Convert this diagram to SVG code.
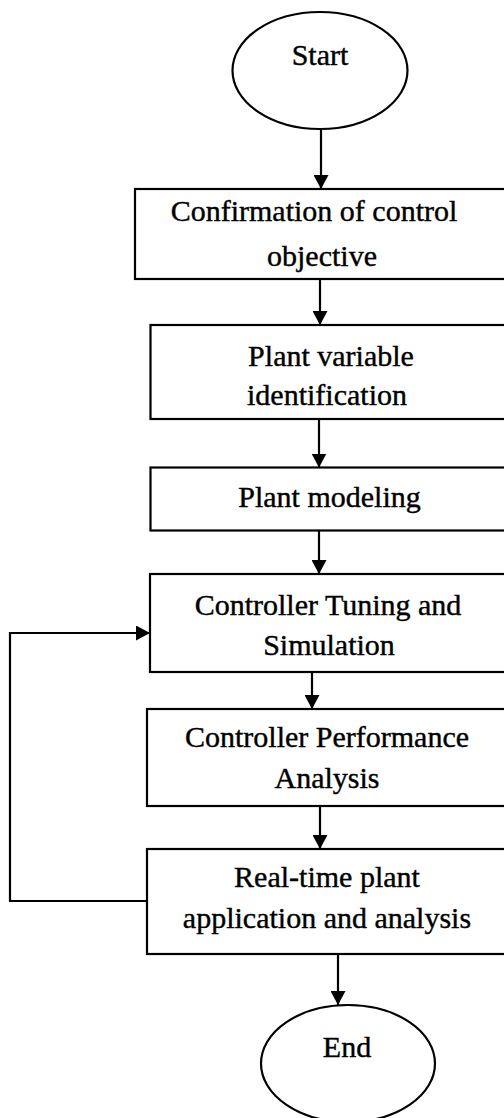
<svg xmlns="http://www.w3.org/2000/svg" width="504" height="1118" viewBox="0 0 504 1118">
<style>
.n{fill:#fff;stroke:#000;stroke-width:2.2}
.t{font-family:"Liberation Serif","Times New Roman",serif;font-size:30px;fill:#000;stroke:#000;stroke-width:0.4;text-anchor:middle}
.c{fill:none;stroke:#000;stroke-width:2.2}
</style>
<defs>
<marker id="ah" viewBox="0 0 14 15" refX="14" refY="7.5" markerWidth="14" markerHeight="15" markerUnits="userSpaceOnUse" orient="auto">
<path d="M0,0 L14,7.5 L0,15 Z" fill="#000"/>
</marker>
</defs>
<rect width="504" height="1118" fill="#fff"/>
<g id="start"><ellipse class="n" cx="320" cy="70.5" rx="87.5" ry="58.5"/><text class="t" x="320" y="65">Start</text></g>
<g id="confirm"><rect class="n" x="135" y="189" width="380" height="90"/><text class="t" x="314" y="221">Confirmation of control</text><text class="t" x="322" y="266">objective</text></g>
<g id="identify"><rect class="n" x="150.5" y="325" width="365" height="94"/><text class="t" x="331" y="366">Plant variable</text><text class="t" x="327" y="405">identification</text></g>
<g id="model"><rect class="n" x="150.5" y="467.5" width="365" height="63"/><text class="t" x="329.5" y="507">Plant modeling</text></g>
<g id="tuning"><rect class="n" x="150" y="574" width="365" height="98"/><text class="t" x="328" y="615">Controller Tuning and</text><text class="t" x="329" y="655">Simulation</text></g>
<g id="performance"><rect class="n" x="147" y="709" width="368" height="97"/><text class="t" x="327" y="747">Controller Performance</text><text class="t" x="327" y="788">Analysis</text></g>
<g id="realtime"><rect class="n" x="147" y="849" width="368" height="105"/><text class="t" x="327" y="887">Real-time plant</text><text class="t" x="327" y="928">application and analysis</text></g>
<g id="end"><ellipse class="n" cx="348" cy="1063.5" rx="87" ry="58.5"/><text class="t" x="347" y="1057">End</text></g>
<g id="connectors">
<line class="c" x1="321" y1="129" x2="321" y2="189" marker-end="url(#ah)"/>
<line class="c" x1="320" y1="279" x2="320" y2="325" marker-end="url(#ah)"/>
<line class="c" x1="319" y1="419" x2="319" y2="467.5" marker-end="url(#ah)"/>
<line class="c" x1="319" y1="531" x2="319" y2="574" marker-end="url(#ah)"/>
<line class="c" x1="312" y1="672" x2="312" y2="709" marker-end="url(#ah)"/>
<line class="c" x1="320" y1="806" x2="320" y2="849" marker-end="url(#ah)"/>
<line class="c" x1="338" y1="954" x2="338" y2="1005" marker-end="url(#ah)"/>
<polyline class="c" points="147,901 10,901 10,633 150,633" marker-end="url(#ah)"/>
</g>
</svg>
